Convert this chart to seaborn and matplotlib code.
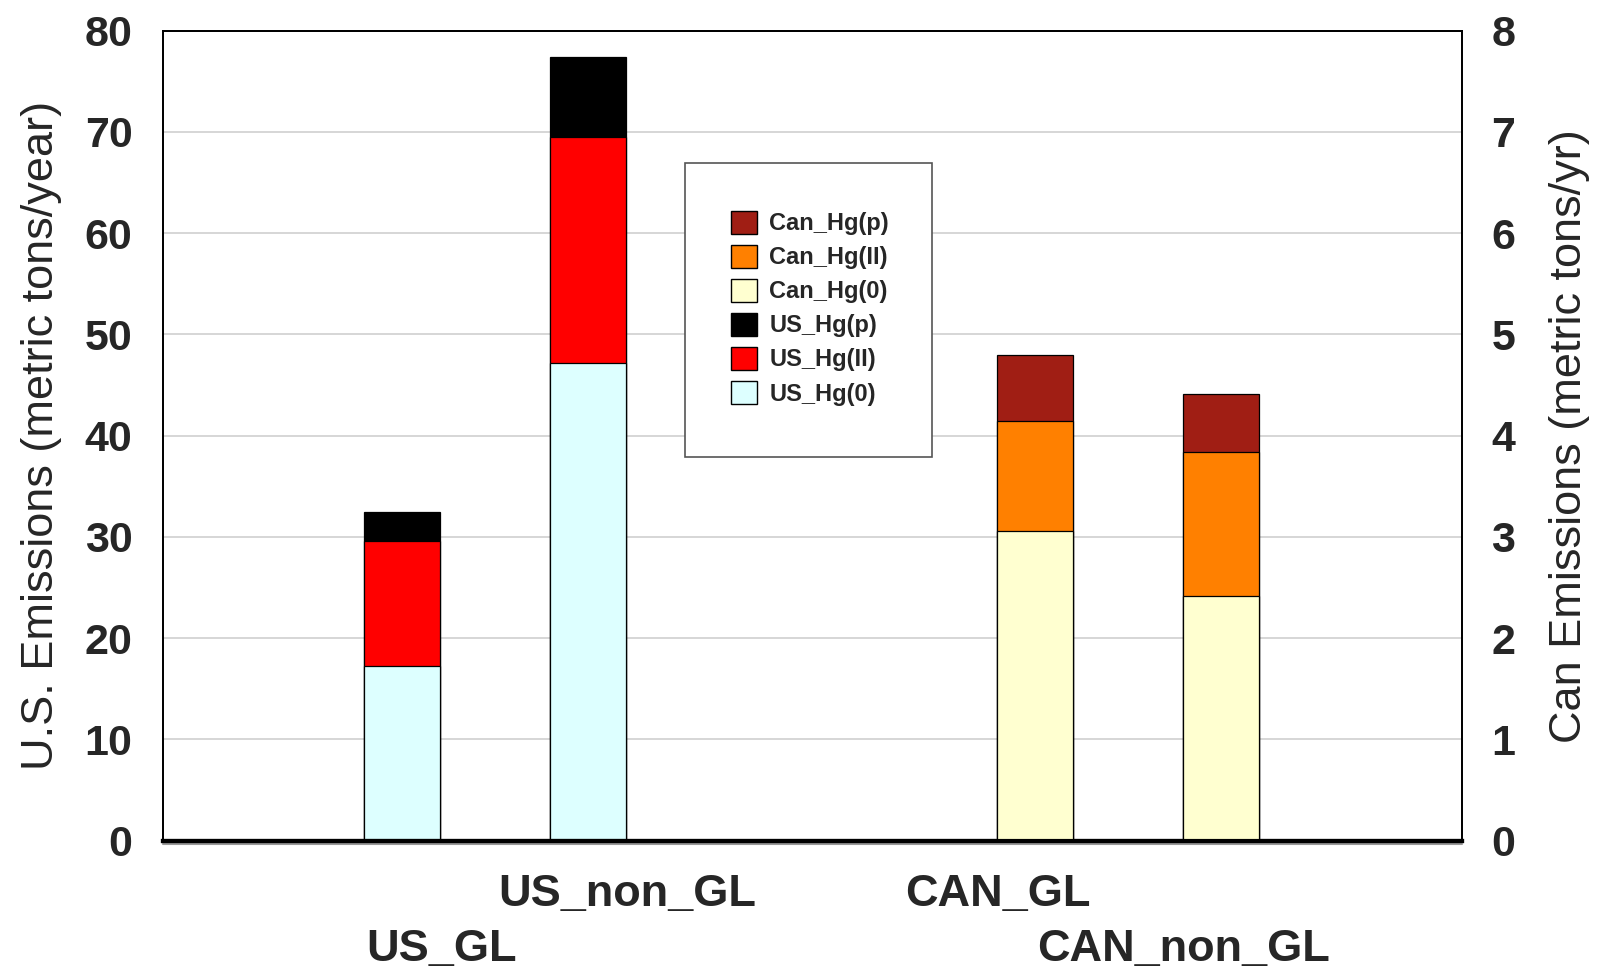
import numpy as np
import pandas as pd
import matplotlib
matplotlib.use("Agg")
import matplotlib.pyplot as plt
import seaborn as sns
from matplotlib.patches import Patch, Rectangle

# data
us_sites = ["US_GL", "US_non_GL"]
can_sites = ["CAN_GL", "CAN_non_GL"]
us_hg0 = [17.3, 47.2]
us_hg2 = [12.3, 22.3]
us_hgp = [2.9, 7.9]
can_hg0 = [3.06, 2.42]
can_hg2 = [1.08, 1.42]
can_hgp = [0.66, 0.57]

# category slots (7 slots, first/middle/last empty as in the sheet)
us_slot = [1.5, 2.5]
can_slot = [4.5, 5.5]

sns.set_style("white")
plt.rcParams["font.family"] = ["Liberation Sans", "DejaVu Sans"]

fig = plt.figure(figsize=(15.98, 9.73), dpi=100)
ax = fig.add_axes([0.102, 0.136, 0.813, 0.8325])
ax2 = ax.twinx()

def stack(axis, pos, layers, colors):
    tops = np.cumsum(np.array(layers), axis=0)
    # draw tallest first so lower pieces sit on top of it
    for top, col in reversed(list(zip(tops, colors))):
        df = pd.DataFrame({"x": pos, "y": top})
        sns.barplot(data=df, x="x", y="y", native_scale=True, width=0.41,
                    color=col, saturation=1, edgecolor="black", linewidth=0.9,
                    ax=axis)

us_pos = [p - 0.21 for p in us_slot]
can_pos = [p + 0.2 for p in can_slot]
stack(ax, us_pos, [us_hg0, us_hg2, us_hgp], ["#DDFFFF", "#FF0000", "#000000"])
stack(ax2, can_pos, [can_hg0, can_hg2, can_hgp], ["#FFFFD0", "#FF8000", "#A01E14"])

ax.set_xlim(0, 7)
ax.set_ylim(0, 80)
ax2.set_ylim(0, 8)
ax.set_yticks(np.arange(0, 81, 10))
ax2.set_yticks(np.arange(0, 9, 1))
ax.set_xticks([])
ax2.set_xticks([])
ax.set_xlabel("")
ax2.set_xlabel("")
ax.yaxis.grid(True, color="#d0d0d0", linewidth=1.2)
ax.set_axisbelow(True)

ax.tick_params(axis="y", length=0, pad=22, labelsize=31)
ax2.tick_params(axis="y", length=0, pad=21, labelsize=31)
for lab in ax.get_yticklabels() + ax2.get_yticklabels():
    lab.set_fontweight("bold")

ax.set_ylabel("U.S. Emissions (metric tons/year)", fontsize=32.5, labelpad=16)
ax2.set_ylabel("Can Emissions (metric tons/yr)", fontsize=32.5, labelpad=24)

for a in (ax, ax2):
    for s in ["left", "right", "top"]:
        a.spines[s].set_color("black")
        a.spines[s].set_linewidth(1.3)
    a.spines["bottom"].set_color("black")
    a.spines["bottom"].set_linewidth(3)
ax.axhline(-0.35, color="#999999", linewidth=1.5, clip_on=False)

# staggered category labels
xlabels = us_sites + can_sites
xpos = us_slot + can_slot
rows = [-0.1346, -0.0667, -0.0667, -0.1346]
for lab, x, y in zip(xlabels, xpos, rows):
    ax.text(x, y, lab, transform=ax.get_xaxis_transform(), ha="center",
            va="center", fontsize=32.5, fontweight="bold")

# legend in a boxed panel
ax2.add_patch(Rectangle((0.402, 0.474), 0.19, 0.362, transform=ax2.transAxes,
                        facecolor="white", edgecolor="#555555", linewidth=1.2,
                        zorder=5))
names = ["Can_Hg(p)", "Can_Hg(II)", "Can_Hg(0)", "US_Hg(p)", "US_Hg(II)", "US_Hg(0)"]
cols = ["#A01E14", "#FF8000", "#FFFFD0", "#000000", "#FF0000", "#DDFFFF"]
handles = [Patch(facecolor=c, edgecolor="black", label=n) for c, n in zip(cols, names)]
leg = ax2.legend(handles=handles, loc="upper left", bbox_to_anchor=(0.4285, 0.792),
                 frameon=False, prop={"weight": "bold", "size": 17},
                 handlelength=1.1, handleheight=1.1, handletextpad=0.5,
                 labelspacing=0.41, borderpad=0)
leg.set_zorder(6)

fig.savefig("out.png", dpi=100)
